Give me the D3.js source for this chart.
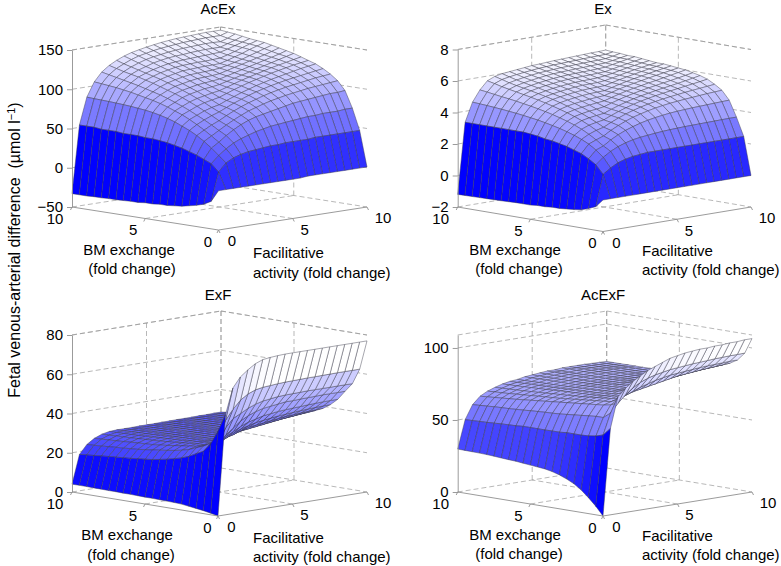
<!DOCTYPE html>
<html><head><meta charset="utf-8">
<script src="https://cdnjs.cloudflare.com/ajax/libs/d3/7.8.5/d3.min.js"></script>
<style>html,body{margin:0;padding:0;background:#fff}text{font-family:"Liberation Sans",Arial,sans-serif;fill:#000;white-space:pre}</style>
</head><body><svg id="c" width="781" height="566"></svg>
<script>
const bmGrid=[0,0.5,1,1.5,2,2.5,3,3.5,4,4.5,5,5.5,6,6.5,7,7.5,8,8.5,9,9.5,10];
const facGrid=[0,0.5,1,1.5,2,2.5,3,3.5,4,4.5,5,5.5,6,6.5,7,7.5,8,8.5,9,9.5,10];
const tickBm=[0,5,10];
const tickFac=[0,5,10];
const titles=["AcEx","Ex","ExF","AcExF"];
const zTicksAcEx=[-50,0,50,100,150];
const zTicksEx=[-2,0,2,4,6,8];
const zTicksExF=[0,20,40,60,80];
const zTicksAcExF=[0,50,100];
// rows: BM exchange index, columns: facilitative activity index
const zAcEx=[
[0,0,0,0,0,0,0,0,0,0,0,0,1,1,1,1,1,1,1,1,1],
[-15,21,31,36,39,41,42,43,44,44,45,45,45,45,46,46,46,46,46,46,46],
[-20,30,39,46,52,56,59,62,64,66,67,68,69,70,71,71,72,72,72,73,73],
[-23,34,47,53,60,66,71,75,78,80,82,84,86,88,89,90,91,92,93,93,94],
[-25,38,54,59.5,65,70.5,75.5,80,84,87,90,92.5,94.5,96.5,98,99.5,101,102,103,104,105],
[-27,41,60,65.5,70.5,74.5,79.5,84,88,91.5,94.5,97.5,100,102,104,105.5,107,108.5,110,111,112],
[-28,44,65,71,75.5,79.5,82.7,87,91,94.5,98,101,103.5,106,108,110,111.5,113,114.5,116,117.5],
[-29,46,69,76,80,84,87,89,93,96.5,100,103,106,108.5,111,113,115,117,119,120.5,122],
[-29,48,73,80.5,84.5,88.5,91.5,93.5,95.5,99,102.5,105.5,108.5,111,113.5,116,118,120,122,123.5,125],
[-30,49,76,84,88.5,92.5,95.5,97.5,99.5,101,104,107,110,112.5,115,117.5,120,122,124,126,128],
[-30,50,78.5,87.5,92,96.5,99.5,101.5,103.5,104.5,106,108.5,111,113.5,116,118.5,121,123.5,126,128.5,131],
[-31,50,80.5,90.5,95.5,100,103,105,107,108,109,110,112.5,115,117.5,120,122.5,125,127.5,130,133],
[-31,51,82,93,98.5,103,106.5,108.5,110.5,112,112.5,113,114,116.5,119,121.5,124,126.5,129,132,135],
[-31.5,51,83,95,101,106,109.5,112,114,115.5,116,116.5,117,118,120,122.5,125,128,131,134,137],
[-32,51,84,97,103.5,109,112.5,115,117,119,119.5,120,120.5,120.5,121,123.5,126.5,129.5,133,136,139],
[-32,52,84.7,99,106,111.5,115,118,120,122,123,123.5,124,124,124.5,125,127.5,130.5,134,137,140],
[-32.5,52,85.3,100.5,108,114,117.5,120.5,123,125,126,127,127.5,128,128.5,129,129.5,132,135,138,141],
[-32.5,52,85.8,102,110,116,120,123,126,128,129.5,130.5,131,132,132.5,133,133,133,136,139,142.5],
[-33,53,86.2,103,112,118,122.5,126,129,131,132.5,134,135,136,136.5,137,137.5,137.5,137,140,144],
[-33,53,86.5,104,114,120.5,125,129,132,134,136,137.5,138.5,139.5,140.5,141,141.5,142,142,142,145],
[-33,53,87,105,116,123,128,132,135,137,139,140.5,142,143,144,144.5,145,145.5,146,146,146]];
const zEx=[
[0,0,0,0,0,0,0,0,0,0,0,0,0,0,0,0,0,0,0,0,0],
[-0.5,1.47,1.8,2.05,2.2,2.3,2.35,2.4,2.4,2.4,2.4,2.4,2.4,2.4,2.4,2.4,2.4,2.4,2.4,2.4,2.4],
[-0.7,2,2.4,2.7,2.92,3.08,3.2,3.28,3.33,3.38,3.42,3.45,3.47,3.49,3.5,3.51,3.52,3.53,3.54,3.55,3.55],
[-0.85,2.3,2.78,2.96,3.27,3.52,3.72,3.88,4.02,4.13,4.22,4.29,4.35,4.39,4.42,4.45,4.47,4.49,4.51,4.53,4.55],
[-0.92,2.55,3.08,3.27,3.44,3.72,3.95,4.15,4.32,4.45,4.57,4.67,4.75,4.82,4.87,4.92,4.96,5,5.04,5.07,5.1],
[-0.96,2.7,3.3,3.55,3.72,3.84,4.07,4.27,4.45,4.6,4.73,4.84,4.93,5.01,5.08,5.14,5.2,5.25,5.3,5.35,5.4],
[-1,2.85,3.48,3.79,3.97,4.07,4.15,4.35,4.53,4.69,4.83,4.95,5.05,5.14,5.22,5.29,5.36,5.43,5.5,5.57,5.65],
[-1,2.95,3.63,3.98,4.18,4.28,4.35,4.41,4.59,4.75,4.89,5.02,5.13,5.22,5.31,5.39,5.46,5.54,5.62,5.71,5.8],
[-1.05,3.05,3.76,4.14,4.36,4.47,4.55,4.6,4.68,4.83,4.97,5.1,5.21,5.31,5.4,5.48,5.56,5.64,5.72,5.81,5.9],
[-1.05,3.1,3.87,4.28,4.52,4.64,4.72,4.78,4.84,4.89,5.03,5.16,5.28,5.38,5.47,5.56,5.64,5.73,5.82,5.91,6],
[-1.1,3.2,3.97,4.41,4.66,4.79,4.88,4.94,5,5.04,5.07,5.2,5.33,5.44,5.54,5.63,5.72,5.81,5.89,5.97,6.05],
[-1.1,3.25,4.06,4.52,4.79,4.93,5.02,5.09,5.15,5.19,5.21,5.23,5.35,5.47,5.58,5.68,5.77,5.86,5.94,6.02,6.1],
[-1.1,3.3,4.13,4.62,4.91,5.06,5.15,5.22,5.28,5.33,5.36,5.37,5.39,5.5,5.61,5.71,5.81,5.9,5.98,6.07,6.15],
[-1.12,3.3,4.2,4.71,5.02,5.17,5.26,5.34,5.4,5.45,5.49,5.5,5.51,5.55,5.64,5.74,5.84,5.93,6.01,6.08,6.15],
[-1.14,3.3,4.26,4.79,5.12,5.27,5.37,5.45,5.51,5.56,5.6,5.62,5.63,5.65,5.7,5.78,5.88,5.97,6.05,6.13,6.2],
[-1.15,3.3,4.31,4.87,5.21,5.37,5.47,5.55,5.61,5.67,5.71,5.73,5.75,5.76,5.79,5.81,5.9,6,6.08,6.17,6.25],
[-1.16,3.3,4.36,4.94,5.3,5.46,5.56,5.64,5.71,5.77,5.81,5.84,5.86,5.87,5.89,5.91,5.94,6.03,6.12,6.21,6.3],
[-1.17,3.3,4.4,5,5.39,5.55,5.65,5.73,5.8,5.87,5.91,5.94,5.96,5.98,6,6.02,6.04,6.05,6.13,6.22,6.3],
[-1.18,3.3,4.44,5.07,5.48,5.65,5.75,5.83,5.9,5.96,6,6.03,6.06,6.08,6.1,6.12,6.14,6.15,6.17,6.25,6.35],
[-1.19,3.3,4.47,5.14,5.6,5.78,5.87,5.94,6,6.05,6.1,6.13,6.16,6.18,6.2,6.22,6.24,6.26,6.27,6.29,6.37],
[-1.2,3.3,4.5,5.2,5.7,5.9,6,6.05,6.1,6.15,6.2,6.22,6.25,6.28,6.3,6.32,6.34,6.36,6.38,6.39,6.41]];
const zExF=[
[0,51,64,69,72,74.5,76,76.5,76.8,77,77,77,77,77,77,77,77,77,77,77,77],
[0.8,42,47,52,56,58.5,60,60.7,61,61.3,61.5,61.6,61.7,61.8,61.8,61.9,61.9,62,62,62,62],
[1.5,35,36,42,46,48,50,51.5,52.5,53,53.5,53.7,53.8,53.9,54,54,54,54,54,54,54],
[2,30.5,34,33,37,40,43,45,46.5,47.5,48,48.5,49,49,49.2,49.3,49.4,49.5,49.5,49.5,49.5],
[2.5,28.7,32,32,32,35,37,39,40.5,41.5,42.5,43,43.5,43.8,44,44.2,44.4,44.6,44.7,44.8,44.8],
[3,26.7,30.5,31,31,31,33,35,36.5,37.5,38.5,39,39.5,40,40.3,40.6,40.9,41.1,41.3,41.4,41.5],
[3.2,25.3,29,30,30.3,30.5,30.5,32,33,34.5,35.5,36,36.5,37,37.5,38,38.2,38.5,38.7,38.9,39],
[3.3,24.3,28,29.5,30,30.3,30.3,30.3,31,32,33,33.5,34,34.5,35,35.5,36,36.3,36.7,37,37.3],
[3.4,23.4,27.3,29,29.7,30,30,30,30,30.7,31.5,32,32.5,33,33.5,34,34.4,34.8,35.2,35.6,36],
[3.5,22.7,26.7,28.5,29.3,29.7,29.9,30,30,30,30.3,31,31.4,31.8,32.2,32.7,33,33.4,33.8,34.2,34.5],
[3.5,22,26.2,28,29,29.4,29.7,29.8,29.9,29.9,29.9,30.2,30.6,31,31.3,31.6,32,32.2,32.5,32.8,33],
[3.6,21.6,25.7,27.6,28.7,29.2,29.5,29.6,29.7,29.8,29.8,29.8,30,30.3,30.6,30.9,31.2,31.4,31.6,31.8,32],
[3.7,21.2,25.2,27.2,28.4,29,29.3,29.4,29.5,29.6,29.7,29.7,29.7,29.9,30.1,30.3,30.5,30.7,30.9,31,31.2],
[3.7,20.8,24.8,27,28.2,28.8,29.1,29.2,29.3,29.4,29.5,29.5,29.5,29.6,29.8,30,30.2,30.4,30.5,30.7,30.8],
[3.8,20.5,24.5,26.8,28,28.6,28.9,29,29.1,29.2,29.3,29.4,29.4,29.4,29.5,29.7,29.9,30.1,30.3,30.5,30.7],
[3.8,20.2,24.2,26.6,27.8,28.4,28.7,28.8,29,29.1,29.2,29.2,29.2,29.3,29.3,29.4,29.6,29.8,30,30.2,30.4],
[3.9,19.9,24,26.3,27.6,28.2,28.5,28.7,28.8,28.9,29,29,29.1,29.1,29.1,29.2,29.3,29.5,29.7,29.9,30],
[3.9,19.6,23.7,26.1,27.4,28.1,28.4,28.5,28.6,28.7,28.8,28.9,28.9,28.9,29,29,29.1,29.2,29.4,29.6,29.7],
[4,19.2,23.4,25.9,27.3,28,28.2,28.3,28.4,28.5,28.6,28.7,28.7,28.8,28.8,28.8,28.9,29,29.1,29.3,29.4],
[4,18.9,23.2,25.7,27.1,27.9,28.1,28.2,28.2,28.3,28.4,28.4,28.5,28.5,28.6,28.6,28.7,28.7,28.8,28.9,29],
[4,18.5,23,25.5,27,27.8,28,28,28,28.1,28.1,28.1,28.2,28.2,28.3,28.3,28.3,28.4,28.4,28.5,28.5]];
const zAcExF=[
[0,60,81,86,90,93,96,98,100,102,103,104,104.5,105,105,105.5,105.5,106,106,106.5,106.5],
[6,54.6,69,75,80,84,87,89,90.5,91.5,92.5,93,93.5,94,94.3,94.6,95,95.2,95.4,95.5,95.6],
[11,53,65,73,76,78,80,82,83.5,85,86,87,87.5,88,88.5,89,89.3,89.5,89.7,90,90],
[15.5,52.3,65,72,73.5,75,76.5,78,79,80,81,82,83,84,84.5,85,85.5,86,86.3,86.7,87],
[19,52,64.5,71.5,73,74,75,76,77,78,79,80,81,81.7,82.3,83,83.5,84,84.3,84.7,85],
[21.5,52,64,71,72.5,73.5,74,75,76,77,77.5,78,79,80,80.5,81,81.5,82,82.5,83,84],
[23.5,52,63.5,70.5,72,73,73.5,74,75,75.5,76,77,77.5,78,79,79.5,80,80.5,81,81.5,82],
[25,51.5,63,70,71.5,72.5,73,73.5,74,74.5,75,75.5,76,77,77.5,78,78.5,79,79.5,80,80.3],
[26,51.5,62.5,69.5,71,72,72.7,73,73.5,74,74.5,75,75.5,76,76.5,77,77.3,77.6,77.8,78,78],
[26.5,51.4,62.2,69,70.5,71.7,72.5,72.8,73.2,73.7,74,74.5,75,75.3,75.5,75.8,76,76,76,76,76],
[27,51.4,62,68.5,70,71.3,72.2,72.6,73,73.5,73.8,74,74.3,74.5,74.7,74.8,75,75,75,75,75],
[27.5,51.4,61.7,68,69.7,71,72,72.4,72.8,73.3,73.6,73.8,74,74.2,74.3,74.4,74.5,74.5,74.5,74.5,74.5],
[28,51.4,61.4,67.5,69.3,70.7,71.8,72.2,72.6,73,73.4,73.6,73.8,74,74.1,74.2,74.3,74.3,74.3,74.3,74.3],
[28.3,51,61,67,69,70.3,71.5,72,72.4,72.9,73.3,73.5,73.7,73.9,74,74.1,74.2,74.2,74.2,74.2,74.2],
[28.6,50.8,60.7,66.5,68.6,70,71.2,71.8,72.2,72.8,73.2,73.5,73.8,73.9,74.1,74.2,74.3,74.3,74.2,74.2,74.2],
[29,50.6,60.4,66,68.2,69.7,71,71.7,72.1,72.8,73.2,73.6,73.9,74,74.2,74.3,74.3,74.3,74.2,74.2,74.1],
[29.3,50.3,60.2,65.6,67.9,69.4,70.8,71.5,72,72.7,73.1,73.6,74,74,74.3,74.4,74.4,74.4,74.3,74.2,74.1],
[29.5,50,60,65.2,67.5,69.1,70.5,71.4,71.9,72.7,73.1,73.6,74,74,74.4,74.4,74.4,74.4,74.3,74.2,74.1],
[29.6,49.8,59.6,64.8,67.2,68.9,70.3,71.2,71.7,72.6,73,73.5,74,74,74.4,74.5,74.5,74.5,74.3,74.2,74],
[29.7,49.6,59.3,64.4,67,68.7,70.2,71.1,71.6,72.5,73,73.5,74,74,74.5,74.5,74.5,74.5,74.3,74.2,74],
[29.8,49.4,59,64,66.7,68.5,70,71,71.5,72.5,73,73.5,74,74,74.5,74.5,74.5,74.5,74.3,74.2,74]];

const panels=[
 {title:titles[0],z:zAcEx,ticks:zTicksAcEx,dom:[-50,150],O:[218.5,230],L:[72,207],R:[367,207],top:50,titleXY:[218,9],bmL:[129,250,132,269],facL:[253,253,273]},
 {title:titles[1],z:zEx,ticks:zTicksEx,dom:[-2,8],O:[603,231.5],L:[457.7,207],R:[751,207],top:49.5,titleXY:[603,9],bmL:[515,250,519,269],facL:[642,251,270]},
 {title:titles[2],z:zExF,ticks:zTicksExF,dom:[0,80],O:[218,516],L:[72,492],R:[367,492],top:335,titleXY:[218,295],bmL:[127,535,131,555],facL:[253,538,557]},
 {title:titles[3],z:zAcExF,ticks:zTicksAcExF,dom:[0,109],O:[603,516],L:[457.7,492],R:[752,492],top:335,titleXY:[603,295],bmL:[515,535,519,554],facL:[642,536,555]}
];
const svg=d3.select("#c");
const GRAY="#909090";
const FS=15;
panels.forEach(p=>{
 const g=svg.append("g");
 const bmX=d3.scaleLinear([0,10],[p.O[0],p.L[0]]), bmY=d3.scaleLinear([0,10],[p.O[1],p.L[1]]);
 const fX=d3.scaleLinear([0,10],[p.O[0],p.R[0]]), fY=d3.scaleLinear([0,10],[p.O[1],p.R[1]]);
 const zY=d3.scaleLinear(p.dom,[p.L[1],p.top]);
 const sx=(b,f)=>bmX(b)+fX(f)-p.O[0];
 const sy=(b,f,z)=>bmY(b)+fY(f)-p.O[1]-(p.L[1]-zY(z));
 const line=d3.line();
 const [z0,z1]=p.dom;
 // grid
 const grid=g.append("g").attr("fill","none").attr("stroke","#999").attr("stroke-width",0.7).attr("stroke-dasharray","5,3");
 const seg=(a,b)=>grid.append("path").attr("d",line([a,b]));
 p.ticks.concat([z1]).forEach(z=>{
   seg([sx(10,0),sy(10,0,z)],[sx(10,10),sy(10,10,z)]);
   seg([sx(10,10),sy(10,10,z)],[sx(0,10),sy(0,10,z)]);
 });
 [5,10].forEach(v=>{
   seg([sx(10,v),sy(10,v,z0)],[sx(10,v),sy(10,v,z1)]);
   seg([sx(v,10),sy(v,10,z0)],[sx(v,10),sy(v,10,z1)]);
 });
 seg([sx(5,0),sy(5,0,z0)],[sx(5,10),sy(5,10,z0)]);
 seg([sx(0,5),sy(0,5,z0)],[sx(10,5),sy(10,5,z0)]);
 // surface
 const [zmin,zmax]=d3.extent(p.z.flat());
 const col=d3.scaleLinear([zmin,zmax],["#0000ff","#ffffff"]);
 const cells=[];
 for(let i=bmGrid.length-2;i>=0;i--)for(let j=facGrid.length-2;j>=0;j--)cells.push([i,j]);
 g.append("g").selectAll("path").data(cells).join("path")
  .attr("d",([i,j])=>{
    const pt=(a,b)=>[sx(bmGrid[a],facGrid[b]),sy(bmGrid[a],facGrid[b],p.z[a][b])];
    return line([pt(i,j),pt(i+1,j),pt(i+1,j+1),pt(i,j+1)])+"Z";
  })
  .attr("fill",([i,j])=>col(p.z[i][j]))
  .attr("stroke","#3a3a4a").attr("stroke-width",0.45).attr("stroke-linejoin","round");
 // box front edges
 const front=g.append("g").attr("fill","none").attr("stroke",GRAY).attr("stroke-width",0.9);
 front.append("path").attr("d",line([[sx(10,0),sy(10,0,z0)],[sx(0,0),sy(0,0,z0)],[sx(0,10),sy(0,10,z0)]]));
 tickBm.forEach(v=>front.append("path").attr("d",line([[sx(v,0),sy(v,0,z0)],[sx(v,0)-1.5,sy(v,0,z0)+3]])));
 tickFac.forEach(v=>front.append("path").attr("d",line([[sx(0,v),sy(0,v,z0)],[sx(0,v)+1.5,sy(0,v,z0)+3]])));
 // z axis
 const ax=g.append("g").attr("transform",`translate(${p.L[0]},0)`)
   .call(d3.axisLeft(zY).tickValues(p.ticks).tickFormat(d3.format("d")).tickSize(5).tickSizeOuter(0).tickPadding(4));
 ax.selectAll("path,line").attr("stroke",GRAY).attr("stroke-width",0.9);
 ax.selectAll("text").attr("font-size",FS).style("font-family",'"Liberation Sans"').attr("fill","#000");
 ax.attr("font-size",FS);
 // floor tick labels
 const bmOff=[-10.5,-12,-17], fOff=[13.5,12,16];
 const lab=(x,y,t,anchor)=>g.append("text").attr("x",x).attr("y",y).attr("dy","0.35em").attr("font-size",FS).attr("text-anchor",anchor||"middle").text(t);
 tickBm.forEach((v,k)=>lab(sx(v,0)+bmOff[k],sy(v,0,z0)+11.5,v));
 tickFac.forEach((v,k)=>lab(sx(0,v)+fOff[k],sy(0,v,z0)+11,v));
 lab(p.titleXY[0],p.titleXY[1],p.title);
 lab(p.bmL[0],p.bmL[1],"BM exchange");
 lab(p.bmL[2],p.bmL[3],"(fold change)");
 lab(p.facL[0],p.facL[1],"Facilitative","start");
 lab(p.facL[0],p.facL[2],"activity (fold change)","start");
});
const yl=svg.append("text").attr("transform","translate(14,250) rotate(-90)").attr("text-anchor","middle").attr("dy","0.35em").attr("font-size",16);
yl.append("tspan").text("Fetal venous-arterial difference  (\u00b5mol l");
yl.append("tspan").attr("dy","-5").attr("font-size",11).text("\u22121");
yl.append("tspan").attr("dy","5").text(")");
</script></body></html>
